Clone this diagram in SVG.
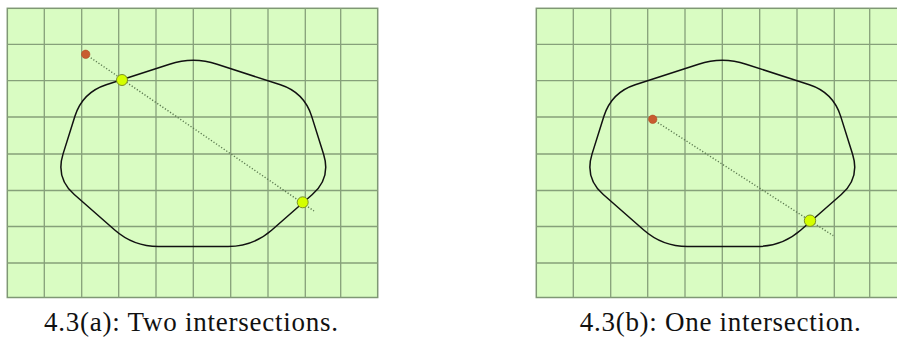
<svg xmlns="http://www.w3.org/2000/svg" width="897" height="344" viewBox="0 0 897 344">
<style>
.bg{fill:#d9fcc2;stroke:#7f9874;stroke-width:1.5}
.grid{fill:none;stroke:#86a07a;stroke-width:1.3}
.shape{fill:none;stroke:#111;stroke-width:1.5;stroke-linejoin:round}
.ray{fill:none;stroke:#5c7a50;stroke-width:1.4;stroke-dasharray:1.2 1.9}
.origin{fill:#c85c30;stroke:#b04a22;stroke-width:0.6}
.hit{fill:#d4ff00;stroke:#6f8420;stroke-width:0.9}
.cap{font-size:27px;fill:#111}
</style>
<defs>
<g id="board">
<rect class="bg" x="7.3" y="8.3" width="370.4" height="289.2"/>
<path class="grid" d="M44.3 8.3V297.5M81.7 8.3V297.5M118.7 8.3V297.5M156 8.3V297.5M193.3 8.3V297.5M230.7 8.3V297.5M268 8.3V297.5M305.3 8.3V297.5M340.7 8.3V297.5M7.3 44.3H377.7M7.3 80.7H377.7M7.3 117H377.7M7.3 154H377.7M7.3 190.5H377.7M7.3 226.5H377.7M7.3 263H377.7"/>
<path class="shape" d="M217.08 64.22L280.42 84.78Q304.2 92.5 311.7 116.35L323.6 154.15Q331.1 178 312.32 194.5L271.88 230Q253.1 246.5 228.1 246.5L158.5 246.5Q133.5 246.5 114.72 230L74.28 194.5Q55.5 178 63 154.15L74.9 116.35Q82.4 92.5 106.18 84.78L169.52 64.22Q193.3 56.5 217.08 64.22Z"/>
</g>
</defs>
<g id="panel-a">
<use href="#board"/>
<text class="cap" font-family="'Liberation Serif', 'DejaVu Serif', serif" x="191" y="331" text-anchor="middle" textLength="294" lengthAdjust="spacing">4.3(a): Two intersections.</text>
</g>
<g id="panel-b">
<use href="#board" transform="translate(529,0)"/>
<text class="cap" font-family="'Liberation Serif', 'DejaVu Serif', serif" x="720.3" y="331" text-anchor="middle" textLength="281" lengthAdjust="spacing">4.3(b): One intersection.</text>
</g>
<g id="connectors">
<path class="ray" d="M85.7 54.3L314 211"/>
<path class="ray" d="M652.7 119.3L833.3 235.7"/>
</g>
<g id="points-a">
<circle id="origin-a" class="origin" cx="85.7" cy="54.3" r="4.2"/>
<circle id="hit-a1" class="hit" cx="122" cy="80" r="5.5"/>
<circle id="hit-a2" class="hit" cx="302.7" cy="202.3" r="5.5"/>
</g>
<g id="points-b">
<circle id="origin-b" class="origin" cx="652.7" cy="119.3" r="4.2"/>
<circle id="hit-b1" class="hit" cx="810" cy="220.7" r="5.7"/>
</g>
</svg>
